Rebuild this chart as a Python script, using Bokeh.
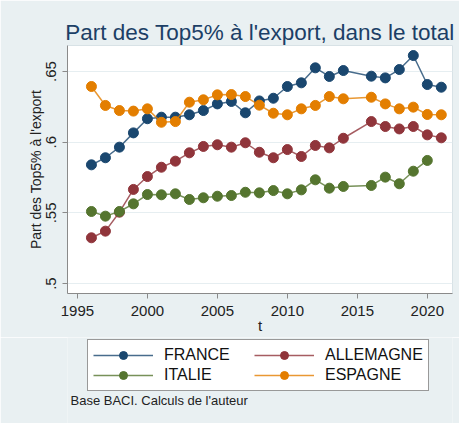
from bokeh.plotting import figure
from bokeh.layouts import column
from bokeh.models import (Range1d, FixedTicker, Legend, LegendItem, Label)
from bokeh.embed import file_html
from bokeh.resources import INLINE

# ---- data ----
years = [1996, 1997, 1998, 1999, 2000, 2001, 2002, 2003, 2004, 2005, 2006,
         2007, 2008, 2009, 2010, 2011, 2012, 2013, 2014, 2016, 2017, 2018,
         2019, 2020, 2021]
france = [0.584, 0.589, 0.5965, 0.6066, 0.6166, 0.6177, 0.6177, 0.6194, 0.6224,
          0.6271, 0.6288, 0.6208, 0.6292, 0.6311, 0.6394, 0.642, 0.6526, 0.6465,
          0.6507, 0.6467, 0.6455, 0.6514, 0.6613, 0.6408, 0.6389]
allemagne = [0.5324, 0.5371, 0.5505, 0.5666, 0.5757, 0.5823, 0.5866, 0.5925,
             0.597, 0.5982, 0.5965, 0.5996, 0.5929, 0.589, 0.5948, 0.5899,
             0.5977, 0.596, 0.6028, 0.6146, 0.6111, 0.6094, 0.6111, 0.6052,
             0.6031]
italie = [0.551, 0.5477, 0.551, 0.5564, 0.563, 0.5628, 0.5635, 0.5595, 0.5607,
          0.5618, 0.5623, 0.5646, 0.5642, 0.5658, 0.5635, 0.5663, 0.5734,
          0.5675, 0.5687, 0.5694, 0.5753, 0.5706, 0.5795, 0.5871]
espagne = [0.6394, 0.626, 0.6224, 0.622, 0.6236, 0.6141, 0.6146, 0.6283, 0.630,
           0.6335, 0.6337, 0.6323, 0.6262, 0.6205, 0.6194, 0.6236, 0.626, 0.6323,
           0.6307, 0.6318, 0.6271, 0.6236, 0.6248, 0.6196, 0.6194]

series_names = ["FRANCE", "ALLEMAGNE", "ITALIE", "ESPAGNE"]
series_values = [france, allemagne, italie, espagne]
colors = ["#1a476f", "#90353b", "#55752f", "#e37e00"]

x_ticks = [1995, 2000, 2005, 2010, 2015, 2020]
y_ticks = [0.5, 0.55, 0.6, 0.65]
y_tick_labels = [".5", ".55", ".6", ".65"]

title_text = "Part des Top5% à l'export, dans le total"
y_label = "Part des Top5% à l'export"
x_label = "t"
caption = "Base BACI. Calculs de l'auteur"

BG = "#e9f0f2"
FONT = "Liberation Sans"
W = 459
H_MAIN = 337
H_LEG = 86

p = figure(width=W, height=H_MAIN, output_backend="svg", toolbar_location=None,
           x_range=Range1d(1994.29, 2021.8), y_range=Range1d(0.493, 0.6684),
           min_border_left=67, min_border_right=7, min_border_top=45,
           min_border_bottom=44)
p.border_fill_color = BG
p.background_fill_color = "white"
p.outline_line_color = "#d8e2e6"

# title
p.title.text = title_text
p.title.align = "center"
p.title.text_font = FONT
p.title.text_font_size = "22.5px"
p.title.text_font_style = "normal"
p.title.text_color = "#1c3f66"
p.title.standoff = 2

# axes
p.xaxis.ticker = FixedTicker(ticks=x_ticks)
p.yaxis.ticker = FixedTicker(ticks=y_ticks)
p.yaxis.major_label_overrides = {t: l for t, l in zip(y_ticks, y_tick_labels)}
p.yaxis.major_label_orientation = "vertical"
for ax in (p.xaxis[0], p.yaxis[0]):
    ax.axis_line_color = "#8a8a8a"
    ax.major_tick_line_color = "#8a8a8a"
    ax.major_tick_out = 5
    ax.major_tick_in = 0
    ax.minor_tick_line_color = None
    ax.major_label_text_font = FONT
    ax.major_label_text_font_size = "15px"
    ax.major_label_text_color = "#222222"
    ax.axis_label_text_font = FONT
    ax.axis_label_text_font_style = "normal"
    ax.axis_label_text_color = "#222222"
p.xaxis.axis_label = x_label
p.yaxis.axis_label = y_label
p.xaxis.axis_label_text_font_size = "15px"
p.yaxis.axis_label_text_font_size = "14px"
p.xaxis.major_label_standoff = 7
p.xaxis.axis_label_standoff = -2
p.yaxis.major_label_standoff = 6
p.yaxis.axis_label_standoff = 0

p.xgrid.grid_line_color = None
p.ygrid.grid_line_color = "#e6eef1"
p.ygrid.grid_line_width = 1.2

for name, vals, col in zip(series_names, series_values, colors):
    xs = years[:len(vals)]
    p.line(xs, vals, line_color=col, line_width=1.5, line_alpha=0.8)
    p.scatter(xs, vals, size=10, fill_color=col, line_color=col, marker="circle")

# ---- legend + source note panel (frame aligned with the main plot) ----
q = figure(width=W, height=H_LEG, output_backend="svg", toolbar_location=None,
           x_axis_type=None, y_axis_type=None,
           x_range=Range1d(67, 452), y_range=Range1d(0, H_LEG),
           min_border=0)
q.border_fill_color = BG
q.background_fill_color = BG
q.outline_line_color = None
q.xgrid.grid_line_color = None
q.ygrid.grid_line_color = None

items = []
for name, vals, col in zip(series_names, series_values, colors):
    xs = years[:len(vals)]
    # same series, lying outside this panel's ranges: only their legend glyphs show
    r1 = q.line(xs, vals, line_color=col, line_width=1.5, line_alpha=0.8)
    r2 = q.scatter(xs, vals, size=10, fill_color=col, line_color=col, marker="circle")
    items.append(LegendItem(label=name, renderers=[r1, r2]))

legend = Legend(items=items, location=(20, 32), orientation="horizontal", ncols=2)
legend.label_text_font = FONT
legend.label_text_font_size = "16px"
legend.label_text_color = "#111111"
legend.glyph_width = 60
legend.glyph_height = 20
legend.label_width = 90
legend.label_standoff = 11
legend.spacing = 0
legend.padding = 5
legend.margin = 0
legend.border_line_color = "#333333"
legend.border_line_width = 1
legend.background_fill_color = "white"
legend.background_fill_alpha = 1
q.add_layout(legend, "center")

cap = Label(x=70, y=23, text=caption, text_font=FONT, text_font_size="13px",
            text_color="#222222", text_baseline="alphabetic")
q.add_layout(cap)

layout = column(p, q, spacing=0)
open("out.html", "w").write(file_html(layout, INLINE))
